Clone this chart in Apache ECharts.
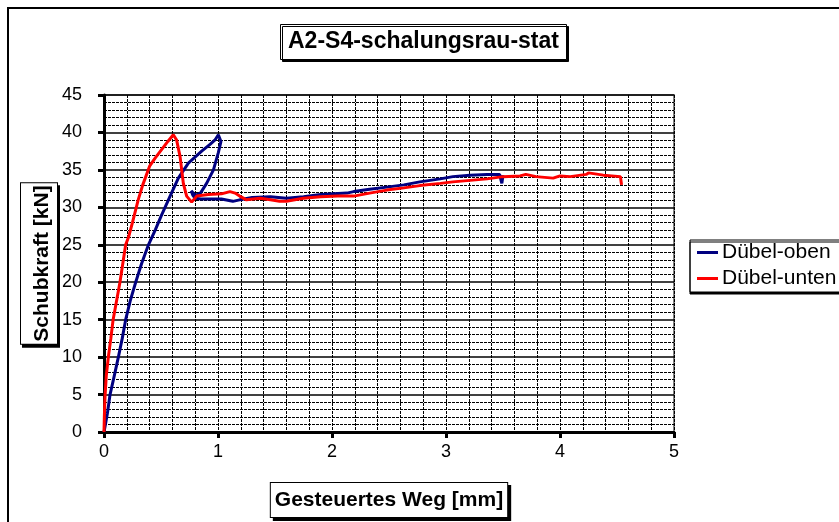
<!DOCTYPE html>
<html>
<head>
<meta charset="utf-8">
<script src="https://cdn.jsdelivr.net/npm/echarts@6/dist/echarts.min.js"></script>
<style>html,body{margin:0;padding:0;background:#fff;}#c{width:839px;height:522px;}</style>
</head>
<body>
<div id="c"></div>
<script>
const chartTitle = 'A2-S4-schalungsrau-stat';
const xName = 'Gesteuertes Weg [mm]';
const yName = 'Schubkraft [kN]';
const seriesNames = ['Dübel-oben', 'Dübel-unten'];
const xTicks = [0, 1, 2, 3, 4, 5];
const yTicks = [0, 5, 10, 15, 20, 25, 30, 35, 40, 45];

// Dübel-oben: [Weg, Kraft]
const obenX = [0, 0.01, 0.03, 0.053, 0.09, 0.126, 0.16, 0.19, 0.23, 0.278, 0.33, 0.39, 0.42, 0.45, 0.50, 0.58, 0.652, 0.74, 0.857, 0.93, 0.974, 1.003, 1.026, 1.003, 0.96, 0.90, 0.846, 0.80, 0.765, 0.754, 0.78, 0.80, 0.85, 0.915, 1.03, 1.13, 1.19, 1.3, 1.46, 1.6, 1.75, 1.9, 2.13, 2.19, 2.33, 2.48, 2.63, 2.77, 2.95, 3.06, 3.21, 3.36, 3.47, 3.49, 3.5, 3.5];
const obenY = [0, 0.8, 2.5, 5, 7.5, 10, 12.5, 15, 17.5, 20, 22.5, 25, 26, 27, 28.8, 31.5, 33.9, 35.9, 37.5, 38.4, 39.0, 39.7, 38.8, 37.3, 35.0, 33.2, 31.9, 31.6, 32.2, 32.4, 31.6, 31.2, 31.1, 31.1, 31.1, 30.8, 31.0, 31.3, 31.4, 31.2, 31.4, 31.7, 31.9, 32.1, 32.4, 32.7, 33.0, 33.4, 33.8, 34.1, 34.3, 34.4, 34.4, 33.2, 33.0, 34.3];

// Dübel-unten: [Weg, Kraft]
const untenX = [0, 0.003, 0.006, 0.01, 0.02, 0.038, 0.06, 0.08, 0.11, 0.14, 0.165, 0.19, 0.215, 0.25, 0.30, 0.34, 0.40, 0.45, 0.50, 0.56, 0.608, 0.637, 0.667, 0.696, 0.725, 0.769, 0.813, 0.915, 1.03, 1.105, 1.15, 1.19, 1.25, 1.37, 1.46, 1.54, 1.6, 1.75, 1.9, 2.05, 2.19, 2.33, 2.48, 2.63, 2.77, 2.95, 3.06, 3.21, 3.36, 3.50, 3.65, 3.70, 3.79, 3.94, 4.0, 4.09, 4.23, 4.25, 4.38, 4.53, 4.54];
const untenY = [0, 2, 3.5, 5, 7.5, 10, 12.5, 15, 17.5, 20, 22.5, 25, 26, 28, 31, 33, 35.5, 36.6, 37.6, 38.8, 39.7, 39.0, 36.8, 33.2, 31.5, 30.7, 31.5, 31.7, 31.8, 32.1, 31.9, 31.5, 31.0, 31.2, 31.0, 30.8, 30.8, 31.2, 31.4, 31.5, 31.5, 31.9, 32.3, 32.6, 32.9, 33.2, 33.4, 33.6, 33.8, 34.1, 34.2, 34.4, 34.1, 33.9, 34.2, 34.1, 34.4, 34.6, 34.3, 34.1, 33.0];

const pairs = (xs, ys) => xs.map((x, i) => [x, ys[i]]);

const chart = echarts.init(document.getElementById('c'), null, {renderer: 'canvas'});
const font = 'Arial, "Liberation Sans", sans-serif';
const dash = [3, 1];

chart.setOption({
  animation: false,
  backgroundColor: '#fff',
  title: {
    text: chartTitle,
    left: 280, top: 24,
    padding: [6, 8, 6, 8],
    borderColor: '#000', borderWidth: 1,
    shadowColor: '#000', shadowOffsetX: 2, shadowOffsetY: 2,
    backgroundColor: '#fff',
    textStyle: {fontFamily: font, fontWeight: 'bold', fontSize: 23, lineHeight: 24, color: '#000'}
  },
  legend: {
    orient: 'vertical',
    left: 690, top: 240,
    padding: [2, 10, 3, 7],
    itemGap: 5,
    itemWidth: 21, itemHeight: 3,
    icon: 'rect',
    borderColor: '#000', borderWidth: 1,
    shadowColor: '#000', shadowOffsetX: 0, shadowOffsetY: 2,
    backgroundColor: '#fff',
    textStyle: {fontFamily: font, fontSize: 21, color: '#000', padding: [0, 0, 0, -1]},
    data: seriesNames
  },
  grid: {
    left: 104, right: 165, top: 95, bottom: 90,
    outerBoundsMode: 'none', containLabel: false,
    show: true, borderColor: '#808080', borderWidth: 2, backgroundColor: '#fff'
  },
  xAxis: {
    type: 'value', min: xTicks[0], max: xTicks[xTicks.length - 1], interval: 1,
    name: xName, nameLocation: 'middle', nameGap: 51, nameMoveOverlap: false,
    nameTextStyle: {fontFamily: font, fontWeight: 'bold', fontSize: 21, lineHeight: 22, color: '#000',
      borderColor: '#000', borderWidth: 1, padding: [6, 4, 6, 4],
      shadowColor: '#000', shadowOffsetX: 3, shadowOffsetY: 3, backgroundColor: '#fff'},
    axisLine: {show: true, onZero: false, lineStyle: {color: '#000', width: 3}},
    axisTick: {show: true, length: 6, lineStyle: {color: '#000', width: 3}},
    axisLabel: {fontFamily: font, fontSize: 18, color: '#000', margin: 11},
    splitLine: {show: true, lineStyle: {color: '#000', width: 1, type: dash}},
    minorTick: {show: false, splitNumber: 5},
    minorSplitLine: {show: true, lineStyle: {color: '#000', width: 1, type: dash}}
  },
  yAxis: {
    type: 'value', min: yTicks[0], max: yTicks[yTicks.length - 1], interval: 5,
    name: yName, nameLocation: 'middle', nameGap: 47, nameRotate: 90, nameMoveOverlap: false,
    nameTextStyle: {fontFamily: font, fontWeight: 'bold', fontSize: 21, lineHeight: 22, color: '#000',
      borderColor: '#000', borderWidth: 1, padding: [10, 2, 4, 2],
      shadowColor: '#000', shadowOffsetX: 2, shadowOffsetY: 3, backgroundColor: '#fff'},
    axisLine: {show: true, onZero: false, lineStyle: {color: '#000', width: 3}},
    axisTick: {show: true, length: 6, lineStyle: {color: '#000', width: 3}},
    axisLabel: {fontFamily: font, fontSize: 18, color: '#000', margin: 22},
    splitLine: {show: true, lineStyle: {color: '#000', width: 1.5}},
    minorTick: {show: false, splitNumber: 5},
    minorSplitLine: {show: true, lineStyle: {color: '#000', width: 1, type: dash}}
  },
  graphic: [{
    type: 'rect', silent: true, z: 100,
    shape: {x: 8, y: 8, width: 900, height: 600},
    style: {fill: null, stroke: '#000', lineWidth: 2}
  }],
  series: [
    {name: seriesNames[0], type: 'line', data: pairs(obenX, obenY), showSymbol: false,
     color: '#000080', lineStyle: {color: '#000080', width: 3}, z: 3},
    {name: seriesNames[1], type: 'line', data: pairs(untenX, untenY), showSymbol: false,
     color: '#ff0000', lineStyle: {color: '#ff0000', width: 3}, z: 4}
  ]
});
</script>
</body>
</html>
